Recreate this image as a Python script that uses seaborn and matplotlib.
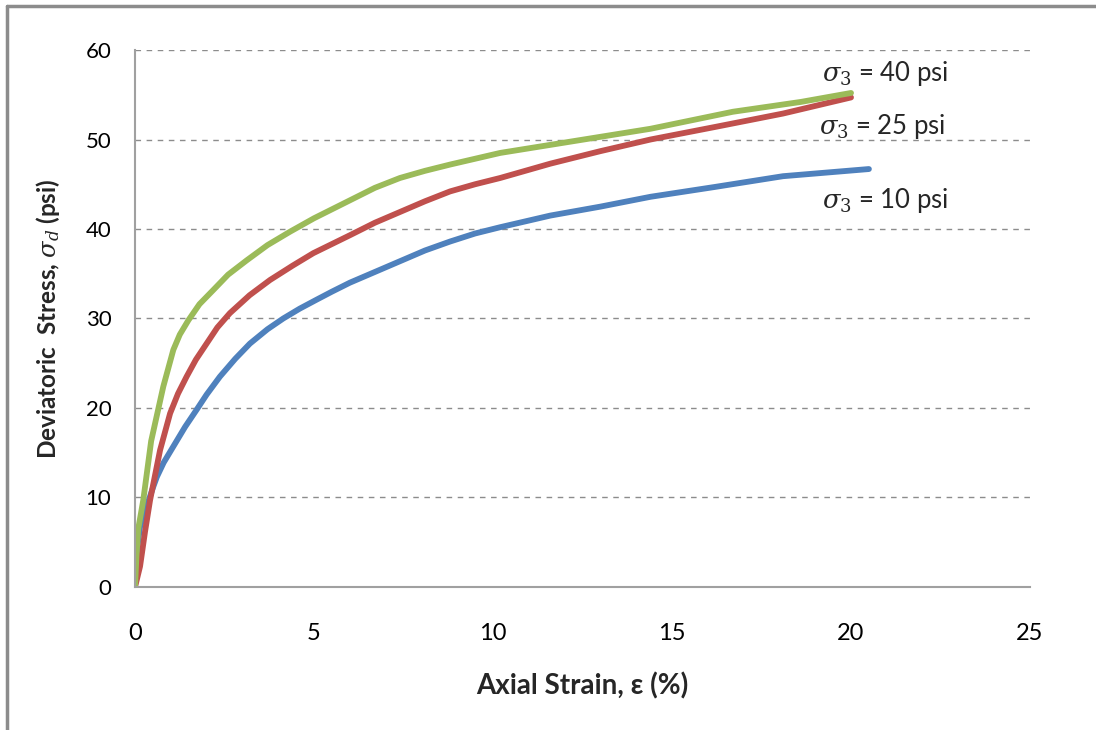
import pandas as pd
import matplotlib.pyplot as plt
from matplotlib.lines import Line2D
import seaborn as sns

# values
strain_10 = [0, 0.05, 0.14, 0.23, 0.51, 0.61, 0.8, 1.07, 1.4, 1.72, 2.0, 2.37, 2.8, 3.21,
             3.7, 4.14, 4.6, 5.07, 5.5, 6.0, 6.7, 7.4, 8.1, 8.8, 9.5, 10.2, 11.6, 13.0,
             14.4, 16.2, 18.1, 20.5]
stress_10 = [0, 4.0, 6.7, 7.9, 11.2, 12.3, 13.9, 15.7, 17.9, 19.8, 21.5, 23.5, 25.5, 27.2,
             28.8, 30.0, 31.1, 32.1, 33.0, 34.0, 35.2, 36.4, 37.6, 38.6, 39.5, 40.2, 41.5, 42.5,
             43.6, 44.7, 45.9, 46.7]

strain_25 = [0, 0.14, 0.28, 0.42, 0.70, 0.98, 1.2, 1.44, 1.7, 2.0, 2.3, 2.65, 3.2, 3.77,
             4.4, 4.98, 6.0, 6.7, 7.4, 8.1, 8.8, 9.5, 10.2, 11.6, 13.0, 14.4, 16.2, 18.1, 20.0]
stress_25 = [0, 2.3, 6.2, 9.7, 15.3, 19.4, 21.6, 23.5, 25.4, 27.2, 29.0, 30.6, 32.6, 34.3,
             35.9, 37.3, 39.3, 40.7, 41.9, 43.1, 44.2, 45.0, 45.7, 47.3, 48.7, 50.0, 51.4, 52.9, 54.7]

strain_40 = [0, 0.04, 0.09, 0.23, 0.45, 0.79, 1.07, 1.25, 1.49, 1.8, 2.19, 2.6, 3.12, 3.7,
             4.33, 5.0, 6.0, 6.7, 7.4, 8.1, 8.8, 10.2, 11.6, 13.0, 14.4, 16.7, 18.6, 20.0]
stress_40 = [0, 3.5, 6.5, 9.7, 16.3, 22.4, 26.5, 28.2, 29.8, 31.6, 33.2, 34.9, 36.5, 38.2,
             39.7, 41.2, 43.2, 44.6, 45.7, 46.5, 47.2, 48.5, 49.4, 50.3, 51.2, 53.1, 54.2, 55.2]

series_names = ['10 psi', '25 psi', '40 psi']
series_colors = ['#4F81BD', '#C0504D', '#9BBB59']

x_ticks = [0, 5, 10, 15, 20, 25]
y_ticks = [0, 10, 20, 30, 40, 50, 60]

df = pd.concat([
    pd.DataFrame({'strain': strain_10, 'stress': stress_10, 'conf': '10 psi'}),
    pd.DataFrame({'strain': strain_25, 'stress': stress_25, 'conf': '25 psi'}),
    pd.DataFrame({'strain': strain_40, 'stress': stress_40, 'conf': '40 psi'}),
], ignore_index=True)

sns.set_style("white")
plt.rcParams['font.family'] = ['Lato', 'DejaVu Sans']
plt.rcParams['mathtext.fontset'] = 'dejavuserif'

fig = plt.figure(figsize=(10.96, 7.30), dpi=100)
ax = fig.add_axes([0.1232, 0.1959, 0.8166, 0.7356])

sns.lineplot(data=df, x='strain', y='stress', hue='conf', hue_order=series_names,
             palette=series_colors, sort=False, estimator=None, linewidth=4.2,
             legend=False, ax=ax)
for ln in ax.lines:
    ln.set_solid_capstyle('round')
    ln.set_solid_joinstyle('round')

ax.set_xlim(0, 25)
ax.set_ylim(0, 60)
ax.set_xticks(x_ticks)
ax.set_yticks(y_ticks)
ax.tick_params(axis='both', labelsize=16, colors='#a0a0a0', labelcolor='black',
               length=9, width=1.2, direction='out')
ax.tick_params(axis='x', labelsize=17, pad=17)
ax.tick_params(axis='y', pad=8)
ax.yaxis.grid(True, linestyle=(0, (4, 4)), color='#8c8c8c', linewidth=1)
ax.xaxis.grid(False)
for side in ['top', 'right']:
    ax.spines[side].set_visible(False)
for side in ['left', 'bottom']:
    ax.spines[side].set_color('#a0a0a0')
    ax.spines[side].set_linewidth(1.5)

ax.set_xlabel('Axial Strain, ε (%)', fontsize=20, fontweight='bold', labelpad=20)
ax.set_ylabel(r'Deviatoric  Stress, $\sigma_d$ (psi)', fontsize=17.5, fontweight='bold', labelpad=17)

# curve labels
ax.text(19.2, 57.4, r'$\sigma_\mathit{3}$ = 40 psi', fontsize=18.5, va='center')
ax.text(19.1, 51.4, r'$\sigma_\mathit{3}$ = 25 psi', fontsize=18.5, va='center')
ax.text(19.2, 43.2, r'$\sigma_\mathit{3}$ = 10 psi', fontsize=18.5, va='center')

# grey frame on left and top of the picture
fig.add_artist(Line2D([0.0063, 0.0063], [0, 0.9918], transform=fig.transFigure,
                      color='#8c8c8c', linewidth=2.5))
fig.add_artist(Line2D([0.0063, 1.0], [0.9918, 0.9918], transform=fig.transFigure,
                      color='#8c8c8c', linewidth=2.5))

plt.savefig('out.png', dpi=100)
plt.close()
